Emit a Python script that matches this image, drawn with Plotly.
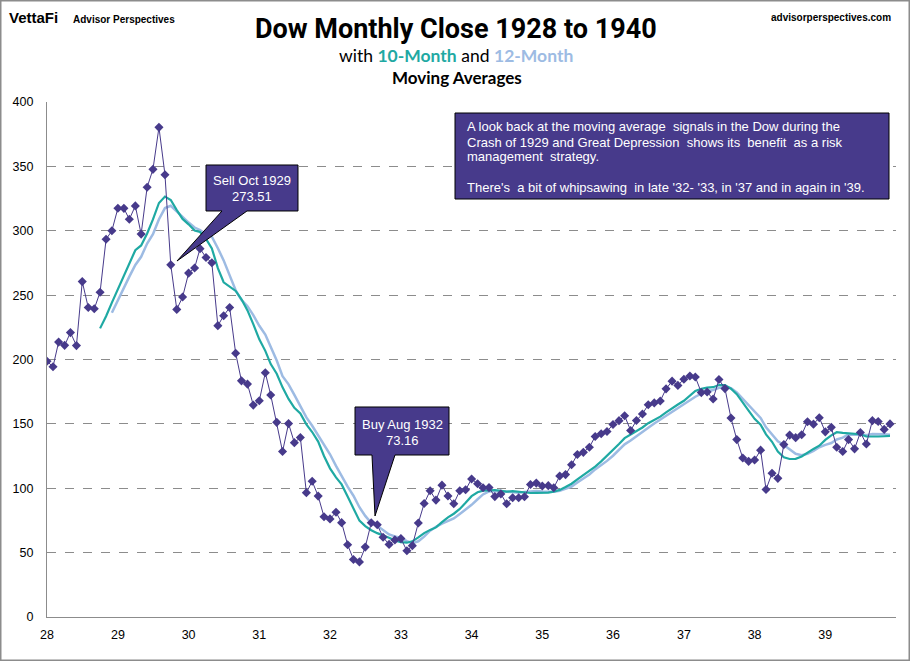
import pandas as pd
import plotly.graph_objects as go

# Dow monthly closes, Jan 1928 .. Dec 1939
years = list(range(1928, 1940))
closes = [
    198.6, 194.4, 213.5, 211.0, 220.9, 210.8, 260.5, 240.4, 239.4, 252.2, 293.4, 300.0,
    317.5, 317.4, 308.9, 319.3, 297.4, 333.8, 347.7, 380.3, 343.5, 273.51, 238.9, 248.5,
    267.1, 271.1, 286.1, 279.2, 275.1, 226.3, 234.0, 240.4, 204.9, 183.4, 180.9, 164.6,
    168.0, 189.7, 172.4, 151.2, 128.5, 150.2, 135.4, 139.4, 96.6, 105.4, 93.9, 77.9,
    76.2, 81.4, 73.3, 56.1, 44.7, 42.8, 54.3, 73.16, 71.6, 61.9, 56.4, 59.9,
    60.9, 51.4, 55.4, 73.0, 88.1, 98.1, 90.8, 102.4, 94.0, 88.0, 98.1, 98.8,
    107.2, 103.5, 100.4, 100.5, 93.5, 95.6, 88.0, 92.6, 92.6, 93.4, 102.9, 104.0,
    101.7, 102.0, 100.4, 109.5, 110.6, 118.2, 126.2, 127.9, 131.9, 140.2, 142.3, 144.1,
    149.5, 152.5, 156.3, 144.9, 152.6, 157.7, 164.9, 166.3, 167.8, 177.2, 183.2, 179.9,
    184.7, 187.2, 186.4, 174.3, 174.7, 169.3, 184.5, 177.4, 154.6, 137.8, 123.5, 120.9,
    121.9, 129.6, 99.0, 111.7, 107.7, 133.9, 141.3, 139.3, 141.5, 151.7, 149.8, 154.8,
    143.8, 147.3, 131.8, 128.5, 137.8, 130.6, 143.3, 134.4, 152.5, 151.9, 145.7, 150.0,
]
tick_labels = [str(y)[2:] for y in years]

dates = pd.date_range("1928-01-01", periods=len(closes), freq="MS")
s = pd.Series(closes, index=dates)
ma10 = s.rolling(10).mean()
ma12 = s.rolling(12).mean()

PURPLE = "#473a8b"
TEAL = "#1fa9a3"
LBLUE = "#9dbbe3"
FONT = "Liberation Sans, Arial, sans-serif"

W, H = 910, 661
L, R, T, B = 47, 14, 102, 44
PW, PH = W - L - R, H - T - B


def px(x, y):
    # pixel position in the page -> paper coords
    return (x - L) / PW, (H - B - y) / PH


def path(points):
    out = []
    for i, (x, y) in enumerate(points):
        a, b = px(x, y)
        out.append(("M" if i == 0 else "L") + f"{a:.5f},{b:.5f}")
    return " ".join(out) + " Z"


fig = go.Figure()
fig.add_trace(go.Scatter(x=ma12.index, y=ma12.values, mode="lines",
                         line=dict(color=LBLUE, width=2.5), name="12-Month"))
fig.add_trace(go.Scatter(x=ma10.index, y=ma10.values, mode="lines",
                         line=dict(color=TEAL, width=2.2), name="10-Month"))
fig.add_trace(go.Scatter(x=s.index, y=s.values, mode="lines+markers",
                         line=dict(color=PURPLE, width=1),
                         marker=dict(symbol="diamond", size=7, color=PURPLE),
                         name="Dow"))

shapes = [
    # outer frame
    dict(type="rect", xref="paper", yref="paper",
         x0=px(0.75, 0)[0], x1=px(909.25, 0)[0], y0=px(0, 660.25)[1], y1=px(0, 0.75)[1],
         line=dict(color="#8c8c8c", width=1.5), layer="below"),
    # callouts
    dict(type="path", xref="paper", yref="paper",
         path=path([(206, 165), (298, 165), (298, 211), (247, 211), (177, 261), (222, 211), (206, 211)]),
         fillcolor=PURPLE, line=dict(color="black", width=1)),
    dict(type="path", xref="paper", yref="paper",
         path=path([(355, 407), (449, 407), (449, 455), (395, 455), (375, 516), (372, 455), (355, 455)]),
         fillcolor=PURPLE, line=dict(color="black", width=1)),
    dict(type="path", xref="paper", yref="paper",
         path=path([(455, 113), (889, 113), (889, 199), (455, 199)]),
         fillcolor=PURPLE, line=dict(color="black", width=1)),
]

annotations = []


def text(x, y, t, size, color="black", anchor="center", family=FONT, yanchor="middle"):
    a, b = px(x, y)
    annotations.append(dict(x=a, y=b, xref="paper", yref="paper", text=t, showarrow=False,
                            xanchor=anchor, yanchor=yanchor, align="left",
                            font=dict(size=size, color=color, family=family)))


text(456, 29, "<b>Dow Monthly Close 1928 to 1940</b>", 27,
     family="Roboto, Liberation Sans, sans-serif")
text(456, 55, f"with <b><span style='color:{TEAL}'>10-Month</span></b> and "
     f"<b><span style='color:{LBLUE}'>12-Month</span></b>", 17.5, family="Lato, Carlito, sans-serif")
text(457, 77, "<b>Moving Averages</b>", 17, family="Lato, Carlito, sans-serif")
text(7, 18, "<b>VettaFi</b>", 15, anchor="left")
text(71, 19, "<b>Advisor Perspectives</b>", 10, anchor="left")
text(893, 17, "<b>advisorperspectives.com</b>", 10, anchor="right")

text(252, 180, "Sell Oct 1929", 13, color="white")
text(252, 196, "273.51", 13, color="white")
text(402, 424, "Buy Aug 1932", 13, color="white")
text(402, 440, "73.16", 13, color="white")

info = [
    "A look back at the moving average  signals in the Dow during the",
    "Crash of 1929 and Great Depression  shows its  benefit  as a risk",
    "management  strategy.",
    "There's  a bit of whipsawing  in late '32- '33, in '37 and in again in '39.",
]
for t, y in zip(info, [127, 142, 157, 187]):
    text(465, y, t, 13, color="white", anchor="left")

fig.update_layout(
    width=W, height=H,
    margin=dict(l=L, r=R, t=T, b=B),
    paper_bgcolor="white", plot_bgcolor="white",
    showlegend=False,
    shapes=shapes, annotations=annotations,
    font=dict(family=FONT, size=12, color="black"),
)
fig.update_xaxes(
    range=["1928-01-01", "1940-01-01"],
    tickvals=[pd.Timestamp(f"{y}-01-01") for y in years], ticktext=tick_labels,
    showgrid=False, showline=True, linecolor="#8c8c8c", linewidth=1.2,
    ticks="", ticklabelstandoff=6, tickfont=dict(size=12.5, family=FONT),
)
fig.update_yaxes(
    range=[0, 400], dtick=50, showgrid=True, gridcolor="#8c8c8c", griddash="dash",
    gridwidth=1, showline=True, linecolor="#8c8c8c", linewidth=1.2,
    ticks="", ticklabelstandoff=10, tickfont=dict(size=12.5, family=FONT), zeroline=False,
)

# drop the default page margin so the figure sits at the window's top-left corner
fig.write_html("out.html", config={"displayModeBar": False},
               post_script="document.body.style.margin='0';")
